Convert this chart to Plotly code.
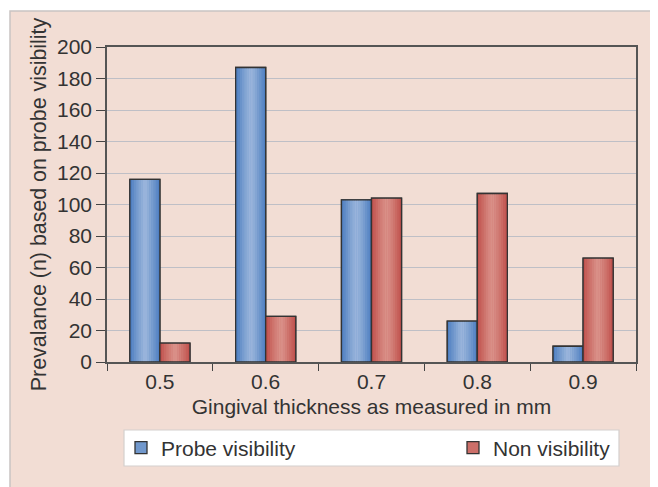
import plotly.graph_objects as go

categories = ["0.5", "0.6", "0.7", "0.8", "0.9"]
probe_visibility = [116, 187, 103, 26, 10]
non_visibility = [12, 29, 104, 107, 66]
series_names = ["Probe visibility", "Non visibility"]
y_ticks = [0, 20, 40, 60, 80, 100, 120, 140, 160, 180, 200]

FONT = "Liberation Sans, Arial, sans-serif"
FS = 21
BAR_W = 0.284
N_STRIPS = 14

# page offset (body margin) compensation
OFF = 8
W, H = 658 - OFF, 487 - OFF
L, T = 107 - OFF, 47 - OFF
R = W - (636 - OFF)
B = H - (362 - OFF)
pw, ph = W - L - R, H - T - B

def px_x(p):
    return (p - OFF - L) / pw

def px_y(p):
    return (H - B - (p - OFF)) / ph

def mix(c1, c2, t):
    return "rgb(%d,%d,%d)" % tuple(round(a + (b - a) * t) for a, b in zip(c1, c2))

styles = [
    {"edge": (72, 122, 190), "center": (155, 182, 220), "mid": "#7198cc", "off": -BAR_W,
     "legend": "legend", "lx": 121},
    {"edge": (190, 76, 72), "center": (218, 146, 138), "mid": "#cc6f69", "off": 0.0,
     "legend": "legend2", "lx": 453},
]

fig = go.Figure()
values = [probe_visibility, non_visibility]

for name, vals, st in zip(series_names, values, styles):
    fig.add_trace(go.Bar(x=categories, y=vals, name=name, width=BAR_W, offset=st["off"],
                         marker=dict(color=st["mid"], line=dict(color="#333333", width=1.3)),
                         showlegend=True, legend=st["legend"], hoverinfo="skip"))
    sw = BAR_W / N_STRIPS
    for i in range(N_STRIPS):
        pos = (i + 0.5) / N_STRIPS
        t = min(1.0, abs(pos - 0.5) * 2) ** 1.2
        fig.add_trace(go.Bar(x=categories, y=vals, width=sw * 1.06, offset=st["off"] + i * sw,
                             marker=dict(color=mix(st["center"], st["edge"], t), line=dict(width=0)),
                             showlegend=False, hoverinfo="skip"))
    fig.add_trace(go.Bar(x=categories, y=vals, width=BAR_W, offset=st["off"],
                         marker=dict(color="rgba(0,0,0,0)", line=dict(color="#333333", width=1.3)),
                         showlegend=False, hoverinfo="skip"))

# beige chart background
fig.add_shape(type="rect", xref="paper", yref="paper", layer="below",
              x0=px_x(10), x1=px_x(680), y0=px_y(11), y1=px_y(500),
              fillcolor="#f2ddd4", line=dict(color="#c9c4c2", width=1.5))
# legend box
fig.add_shape(type="rect", xref="paper", yref="paper", layer="above",
              x0=px_x(124), x1=px_x(619), y0=px_y(430), y1=px_y(466),
              fillcolor="white", line=dict(color="#d4d0ce", width=1.2))

leg_common = dict(orientation="h", yanchor="middle", y=px_y(448), xanchor="left",
                  bgcolor="rgba(0,0,0,0)", borderwidth=0,
                  font=dict(family=FONT, size=FS, color="#333333"))

fig.update_layout(
    width=W, height=H,
    margin=dict(l=L, r=R, t=T, b=B, autoexpand=False),
    paper_bgcolor="white", plot_bgcolor="white",
    barmode="overlay",
    font=dict(family=FONT, size=FS, color="#333333"),
    showlegend=True,
    legend=dict(x=px_x(styles[0]["lx"]), **leg_common),
    legend2=dict(x=px_x(styles[1]["lx"]), **leg_common),
    xaxis=dict(type="category", categoryorder="array", categoryarray=categories,
               tickson="boundaries", ticks="outside", ticklen=7, tickcolor="#444",
               showline=True, linecolor="#555", linewidth=1.5, mirror=True,
               showgrid=False, automargin=False, tickfont=dict(size=FS, color="#333"),
               title=dict(text="Gingival thickness as measured in mm", standoff=7,
                          font=dict(size=FS, color="#333"))),
    yaxis=dict(range=[0, 200], tickvals=y_ticks, ticks="outside", ticklen=9, tickcolor="#444",
               showline=True, linecolor="#555", linewidth=1.5, mirror=True,
               showgrid=True, gridcolor="#bfbfc6", gridwidth=1.2, zeroline=False,
               automargin=False, tickfont=dict(size=FS, color="#333"),
               title=dict(text="Prevalance (n) based on probe visibility", standoff=5,
                          font=dict(size=21.4, color="#333"))),
)

fig.write_html("out.html")
